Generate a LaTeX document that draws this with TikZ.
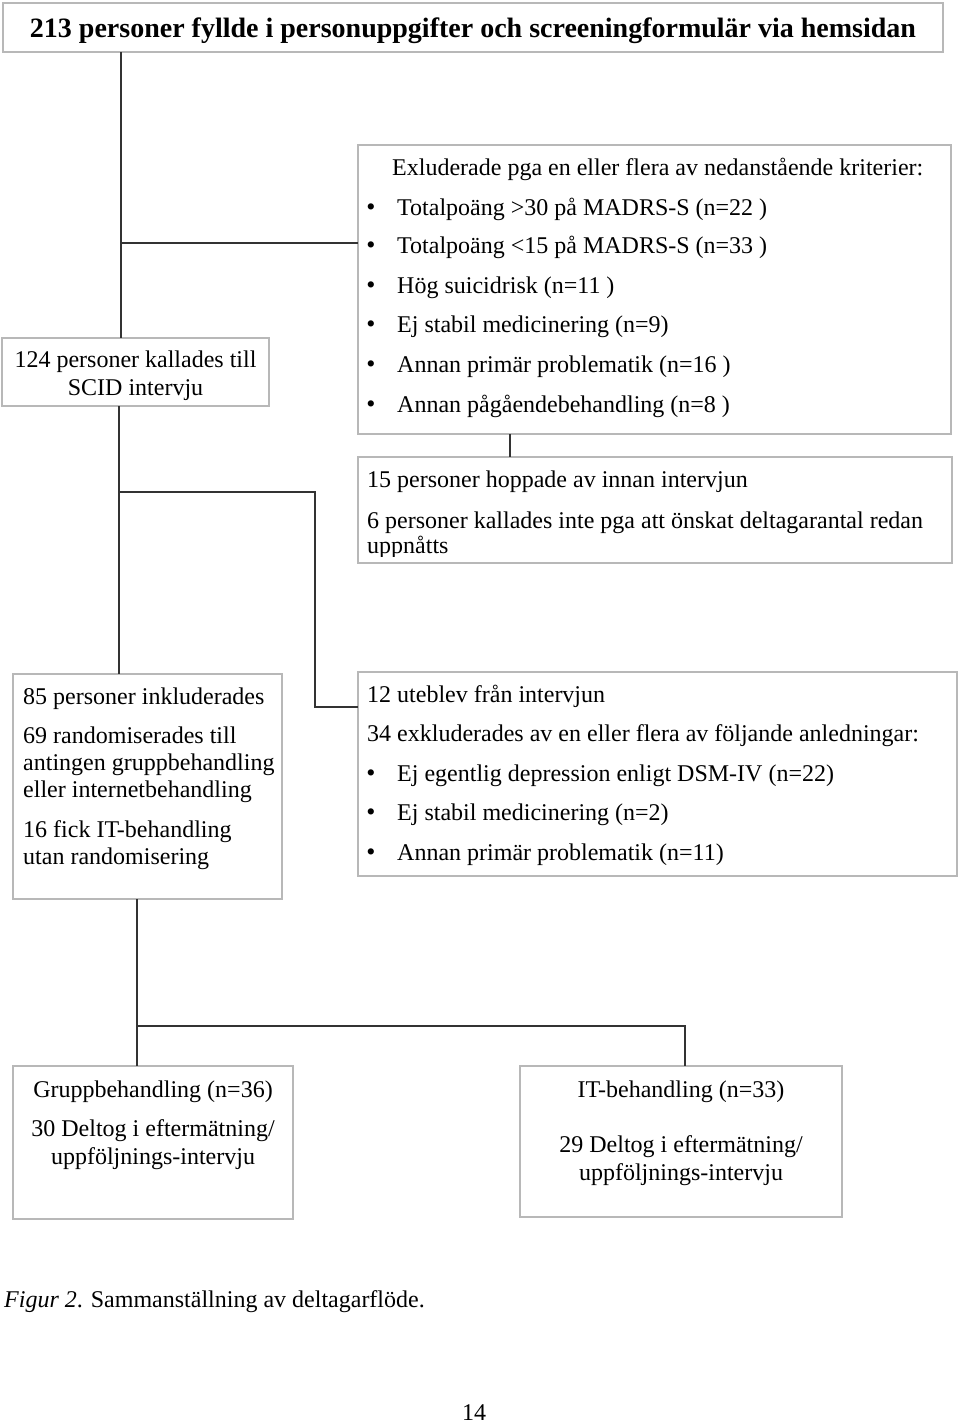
\documentclass[tikz,border=0pt]{standalone}
\usepackage{fontspec}
\setmainfont{Liberation Serif}
\usetikzlibrary{calc}
\definecolor{boxgray}{gray}{0.72}
\definecolor{linegray}{gray}{0.2}
\begin{document}
\begin{tikzpicture}[x=1pt,y=-1pt,
  box/.style={draw=boxgray, line width=1.2pt, inner sep=0pt, outer sep=0pt, anchor=north west, rectangle},
  conn/.style={draw=linegray, line width=2pt},
  txt/.style={inner sep=0pt, anchor=base west, font=\fontsize{24}{27}\selectfont},
  ctxt/.style={txt, anchor=base},
  bul/.style={inner sep=0pt, anchor=base, font=\fontsize{26}{28}\selectfont}]
\useasboundingbox[fill=white] (0,0) rectangle (960,1424);

% boxes
\node[box, minimum width=940pt, minimum height=49pt] (title) at (3,3) {};
\node[box, minimum width=593pt, minimum height=289pt] (excl) at (358,145) {};
\node[box, minimum width=267pt, minimum height=68pt] (scid) at (2,338) {};
\node[box, minimum width=594pt, minimum height=106pt] (drop) at (358,457) {};
\node[box, minimum width=269pt, minimum height=225pt] (incl) at (13,674) {};
\node[box, minimum width=599pt, minimum height=204pt] (excl2) at (358,672) {};
\node[box, minimum width=280pt, minimum height=153pt] (grp) at (13,1066) {};
\node[box, minimum width=322pt, minimum height=151pt] (it) at (520,1066) {};

% junctions
\coordinate (j1) at (121,243);
\coordinate (j2) at (119,492);
\coordinate (j3) at (315,492);
\coordinate (j4) at (315,707);
\coordinate (j5) at (137,1026);
\coordinate (j6) at (685,1026);

% connectors
\draw[conn] (title.south west -| j1) -- (scid.north west -| j1);
\draw[conn] (j1) -- (j1 -| excl.west);
\draw[conn] (scid.south west -| j2) -- (incl.north west -| j2);
\draw[conn] (j2) -- (j3) -- (j4) -- (j4 -| excl2.west);
\draw[conn] (excl.south west -| 510,0) -- (drop.north west -| 510,0);
\draw[conn] (incl.south west -| j5) -- (grp.north west -| j5);
\draw[conn] (j5) -- (j6) -- (it.north west -| j6);

% title text
\node[inner sep=0pt, anchor=base, font=\bfseries\fontsize{28}{32}\selectfont] (tt) at (473,37) {213 personer fyllde i personuppgifter och screeningformulär via hemsidan};

% exclusion box
\node[txt] (e0) at (392,175) {Exluderade pga en eller flera av nedanstående kriterier:};
\foreach \y/\t [count=\i] in {215/{Totalpoäng >30 på MADRS-S (n=22 )},253/{Totalpoäng <15 på MADRS-S (n=33 )},293/{Hög suicidrisk (n=11 )},332/{Ej stabil medicinering (n=9)},372/{Annan primär problematik (n=16 )},412/{Annan pågåendebehandling (n=8 )}}{
  \node[bul] (eb\i) at (371,\y) {•};
  \node[txt] (e\i) at (397,\y) {\t};
}

% scid
\node[ctxt] (s1) at (135.5,367) {124 personer kallades till};
\node[ctxt] (s2) at (135.5,395) {SCID intervju};

% drop
\node[txt] (d1) at (367,487) {15 personer hoppade av innan intervjun};
\node[txt] (d2) at (367,528) {6 personer kallades inte pga att önskat deltagarantal redan};
\begin{scope}
\clip (358,535) rectangle (952,556);
\node[txt] (d3) at (367,553) {uppnåtts};
\end{scope}

% incl
\node[txt] (i1) at (23,704) {85 personer inkluderades};
\node[txt] (i2) at (23,743) {69 randomiserades till};
\node[txt] (i3) at (23,770) {antingen gruppbehandling};
\node[txt] (i4) at (23,797) {eller internetbehandling};
\node[txt] (i5) at (23,837) {16 fick IT-behandling};
\node[txt] (i6) at (23,864) {utan randomisering};

% excl2
\node[txt] (x1) at (367,702) {12 uteblev från intervjun};
\node[txt] (x2) at (367,741) {34 exkluderades av en eller flera av följande anledningar:};
\foreach \y/\t [count=\i] in {781/{Ej egentlig depression enligt DSM-IV (n=22)},820/{Ej stabil medicinering (n=2)},860/{Annan primär problematik (n=11)}}{
  \node[bul] (xb\i) at (371,\y) {•};
  \node[txt] (xt\i) at (397,\y) {\t};
}

% grp
\node[ctxt] (g1) at (153,1097) {Gruppbehandling (n=36)};
\node[ctxt] (g2) at (153,1136) {30 Deltog i eftermätning/};
\node[ctxt] (g3) at (153,1164) {uppföljnings-intervju};

% it
\node[ctxt] (t1) at (681,1097) {IT-behandling (n=33)};
\node[ctxt] (t2) at (681,1152) {29 Deltog i eftermätning/};
\node[ctxt] (t3) at (681,1180) {uppföljnings-intervju};

% caption
\node[txt] (cap) at (4,1307) {\textit{Figur 2}. Sammanställning av deltagarflöde.};
\node[ctxt] (pg) at (474,1420) {14};
\end{tikzpicture}
\end{document}
